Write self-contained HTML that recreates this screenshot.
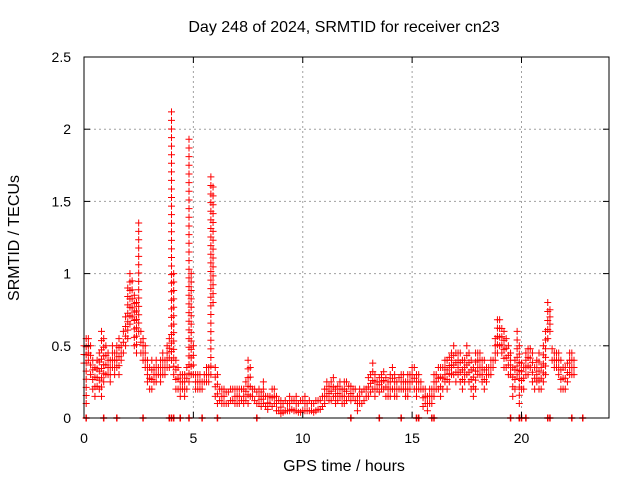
<!DOCTYPE html>
<html><head><meta charset="utf-8"><style>
html,body{margin:0;padding:0;background:#fff}
svg{display:block;font-family:"Liberation Sans",sans-serif}
</style></head><body>
<svg id="chart" width="640" height="480" viewBox="0 0 640 480">
<text x="344" y="32" font-size="16" text-anchor="middle">Day 248 of 2024, SRMTID for receiver cn23</text>
<text x="344" y="471" font-size="16" text-anchor="middle">GPS time / hours</text>
<text transform="translate(19,238) rotate(-90)" font-size="16" text-anchor="middle">SRMTID / TECUs</text>
<g id="grid"></g>
<g id="marks"></g>
<g id="axes"></g>
</svg>
<script>
const xTicks=[0,5,10,15,20];
const yTicks=[0,0.5,1,1.5,2,2.5];
const yTickLabels=["0","0.5","1","1.5","2","2.5"];
const binStart=0, binStep=0.1;
const lowVals=[.38,.1,.4,.3,.2,.15,.22,.2,.15,.25, .3,.3,.25,.35,.3,.35,.3,.4,.45,.5, .55,.65,.7,.5,.45,.6,.45,.4,.35,.25, .2,.2,.25,.25,.3,.25,.3,.3,.35,.35, .4,.3,.2,.2,.15,.2,.15,.2,.25,.3, .3,.2,.2,.2,.2,.25,.25,.25,.3,.8, .15,.1,.12,.1,.1,.1,.1,.12,.12,.1, .1,.1,.12,.1,.12,.1,.15,.15,.12,.1, .1,.08,.1,.08,.06,.1,.08,.1,.05,.05, .03,.04,.05,.05,.05,.06,.05,.05,.04,.04, .05,.05,.05,.05,.05,.04,.05,.06,.06,.08, .1,.15,.12,.12,.15,.1,.12,.15,.1,.1, .12,.15,.12,.15,.12,.05,.1,.1,.12,.15, .15,.18,.2,.15,.2,.18,.2,.2,.15,.15, .15,.2,.15,.15,.2,.2,.2,.15,.15,.2, .25,.2,.15,.2,.2,.08,.1,.05,.1,.1, .15,.2,.2,.15,.2,.25,.2,.25,.3,.3, .25,.3,.25,.2,.25,.3,.25,.2,.15,.2, .3,.3,.25,.2,.25,.3,.3,.35,.4,.45, .5,.45,.35,.35,.3,.3,.15,.2,.3,.1, .2,.2,.3,.3,.35,.25,.2,.25,.2,.2, .25,.3,.55,.6,.4,.35,.35,.3,.2,.2, .2,.25,.3,.3,.3];
const highVals=[.5,.55,.55,.5,.4,.35,.4,.45,.6,.55, .5,.45,.4,.5,.45,.5,.55,.5,.6,.7, .9,1.0,.95,.85,.8,1.35,.6,.55,.5,.4, .35,.4,.35,.4,.35,.4,.45,.4,.5,.55, 2.12,1.0,.4,.35,.3,.3,.3,.35,1.93,1.0, .5,.3,.3,.3,.25,.3,.35,.35,1.67,1.6, .35,.3,.2,.2,.2,.18,.18,.2,.2,.2, .2,.2,.2,.2,.25,.4,.35,.2,.2,.18, .2,.18,.25,.15,.15,.15,.2,.2,.15,.12, .12,.1,.12,.1,.15,.12,.12,.15,.1,.12, .12,.15,.1,.12,.1,.1,.12,.12,.12,.15, .2,.25,.22,.25,.28,.2,.22,.25,.2,.25, .25,.22,.22,.2,.2,.15,.2,.18,.2,.2, .28,.3,.38,.3,.25,.28,.3,.32,.28,.25, .3,.35,.3,.25,.28,.3,.3,.25,.3,.3, .35,.35,.3,.3,.25,.2,.2,.15,.2,.2, .3,.3,.35,.35,.35,.4,.4,.42,.45,.5, .45,.45,.45,.4,.4,.5,.45,.4,.35,.45, .45,.45,.4,.4,.35,.35,.4,.4,.55,.68, .68,.62,.6,.55,.5,.45,.35,.4,.6,.5, .38,.35,.45,.48,.48,.45,.35,.4,.45,.35, .5,.6,.8,.75,.48,.45,.45,.45,.4,.35, .35,.38,.45,.45,.4];
const zeroTimes=[0.1,0.9,1.5,2.7,3.9,4.0,4.1,4.4,4.8,5.4,6.1,7.9,12.2,13.5,14.5,15.2,15.3,15.9,16.0,19.5,19.9,20.0,20.2,21.2,21.3,22.3,22.8];
const X0=84,X1=609,Y0=418,Y1=57,XMAX=24,YMAX=2.5;
const xs=t=>X0+(X1-X0)*t/XMAX, ys=v=>Y0-(Y0-Y1)*v/YMAX;
const NS="http://www.w3.org/2000/svg";
function mk(tag,attrs,parent){const e=document.createElementNS(NS,tag);for(const k in attrs)e.setAttribute(k,attrs[k]);parent.appendChild(e);return e;}
const grid=document.getElementById('grid'),axes=document.getElementById('axes'),marks=document.getElementById('marks');
xTicks.forEach(t=>{
  if(t>0){const g=mk('line',{x1:xs(t),x2:xs(t),y1:Y0,y2:Y1,stroke:'#a0a0a0','stroke-dasharray':'2,3'},grid);
  
  }
  const l=mk('text',{x:xs(t),y:Y0+25,'font-size':14,'text-anchor':'middle'},axes);l.textContent=t;
  
  
  mk('line',{x1:xs(t),x2:xs(t),y1:Y0,y2:Y0-6,stroke:'#000'},axes);
  mk('line',{x1:xs(t),x2:xs(t),y1:Y1,y2:Y1+6,stroke:'#000'},axes);
});
yTicks.forEach((v,i)=>{
  if(v>0&&v<YMAX){const g=mk('line',{x1:X0,x2:X1,y1:ys(v),y2:ys(v),stroke:'#a0a0a0','stroke-dasharray':'2,3'},grid);
  
  }
  const l=mk('text',{x:X0-13,y:ys(v)+5,'font-size':14,'text-anchor':'end'},axes);l.textContent=yTickLabels[i];
  
  
  mk('line',{x1:X0,x2:X0+6,y1:ys(v),y2:ys(v),stroke:'#000'},axes);
  mk('line',{x1:X1,x2:X1-6,y1:ys(v),y2:ys(v),stroke:'#000'},axes);
});
const frame=mk('rect',{x:X0,y:Y1,width:X1-X0,height:Y0-Y1,fill:'none',stroke:'#000'},axes);


function plus(x,y){return `M${x-3.5},${y}h7M${x},${y-3.5}v7`;}
lowVals.forEach((lo,i)=>{
  const t=binStart+i*binStep, hi=highVals[i], x=xs(t);
  let d=plus(x,ys(lo));
  const n=Math.max(1,Math.round((hi-lo)/0.06));
  for(let k=1;k<=n;k++)d+=plus(x,ys(lo+(hi-lo)*k/n));
  const p=mk('path',{d:d,stroke:'#ff0000','stroke-width':1,fill:'none'},marks);
  
  
});
zeroTimes.forEach(t=>{
  const p=mk('path',{d:plus(xs(t),ys(0)),stroke:'#ff0000','stroke-width':1.5,fill:'none'},marks);
  
  
});
</script>
</body></html>
